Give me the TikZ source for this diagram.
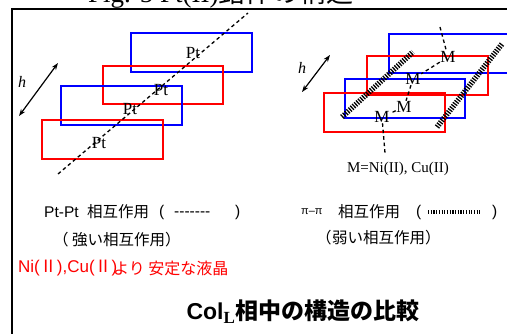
\documentclass[tikz,border=0pt]{standalone}
\usepackage{fontspec}
\usetikzlibrary{arrows.meta}
\setmainfont{Liberation Serif}
\setsansfont{Liberation Sans}
\newfontfamily\jp{Noto Sans CJK JP}
\newcommand\J[1]{{\jp #1}}
\tikzset{
  redbox/.style={draw=red, line width=1.3pt},
  bluebox/.style={draw=blue, line width=1.3pt},
  axisline/.style={line width=1.3pt, dash pattern=on 3.5pt off 3pt},
  hatchline/.style={line width=5.5pt, dash pattern=on 1.3pt off 1.3pt},
  harrow/.style={{Stealth[length=7pt,width=5pt]}-{Stealth[length=7pt,width=5pt]}, line width=1.2pt},
  lab/.style={font=\fontsize{17}{20}\selectfont, inner sep=0.5pt},
  hlab/.style={font=\fontsize{16}{19}\selectfont\itshape, inner sep=0pt},
  txt/.style={font=\fontsize{15.5}{18}\selectfont\sffamily, inner sep=0pt, anchor=west},
}
\begin{document}
\begin{tikzpicture}[x=1pt,y=-1pt]
\useasboundingbox (0,0) rectangle (507,334);
\clip (0,0) rectangle (507,334);
% caption cut off at top
\node[anchor=base west, inner sep=0pt, font=\fontsize{27}{30}\selectfont] (fig) at (88,3) {Fig. 5 Pt(II)\J{錯体の構造}};
% frame
\draw[line width=2pt] (11.5,340) -- (11.5,9.2) -- (515,9.2);
% left diagram
\draw[bluebox] (131,33) rectangle (252,72);
\draw[redbox] (103,66) rectangle (223,104);
\draw[bluebox] (61,86) rectangle (182,125);
\draw[redbox] (42,120) rectangle (163,159);
\coordinate (la) at (58,174);
\coordinate (lb) at (248,13);
\draw[axisline] (la) -- (lb);
\node[lab] (pt1) at (193,53) {Pt};
\node[lab] (pt2) at (161,90) {Pt};
\node[lab] (pt3) at (130,109) {Pt};
\node[lab] (pt4) at (99,143) {Pt};
\coordinate (ha1) at (19,116);
\coordinate (ha2) at (58,63);
\draw[harrow] (ha1) -- (ha2);
\node[hlab] (h1) at (22,82) {h};
% right diagram
\draw[bluebox] (389,34) rectangle (515,73);
\draw[redbox] (367,56) rectangle (488,95);
\draw[bluebox] (345,79) rectangle (465,118);
\draw[redbox] (324,93) rectangle (445,132);
\coordinate (hs1) at (342,117);
\coordinate (hs2) at (413,52);
\coordinate (hs3) at (437,127);
\coordinate (hs4) at (502,44);
\draw[hatchline] (hs1) -- (hs2);
\draw[hatchline] (hs3) -- (hs4);
\node[lab] (m1) at (448,57) {M};
\node[lab] (m2) at (413,79) {M};
\node[lab] (m3) at (404,107) {M};
\node[lab] (m4) at (382,117) {M};
\coordinate (mt) at (440,27);
\coordinate (mb) at (385,153);
\draw[axisline] (mt) -- (m1) -- (m2) -- (m3) -- (m4) -- (mb);
\coordinate (hb1) at (302,92);
\coordinate (hb2) at (330,55);
\draw[harrow] (hb1) -- (hb2);
\node[hlab] (h2) at (302,68) {h};
\node[font=\fontsize{15}{18}\selectfont, inner sep=0pt] (mdef) at (398,169) {M=Ni(II), Cu(II)};
% bottom left texts
\node[txt] (t1a) at (44,212) {Pt-Pt};
\node[txt] (t1b) at (87,212) {\J{相互作用}};
\node[txt] (t1c) at (159,212) {(};
\node[txt] (t1d) at (174,214) {-{}-{}-{}-{}-{}-{}-};
\node[txt] (t1e) at (235,212) {)};
\node[txt] (t2a) at (53,240) {\J{（}};
\node[txt] (t2b) at (72,240) {\J{強い相互作用）}};
\node[txt, text=red, font=\fontsize{17}{20}\selectfont\sffamily] (t3a) at (18,268) {Ni(\J{Ⅱ}),Cu(\J{Ⅱ})};
\node[txt, text=red, font=\fontsize{16}{19}\selectfont\sffamily] (t3b) at (113,268) {\J{より 安定な液晶}};
% bottom right texts
\node[txt, font=\fontsize{11}{13}\selectfont\sffamily] (t4) at (301,212) {π–π};
\node[txt] (t5) at (338,212) {\J{相互作用}};
\node[txt] (t5b) at (416,212) {(};
\coordinate (hh1) at (428,212);
\coordinate (hh2) at (480,212);
\draw[hatchline, line width=4pt, dash pattern=on 1.2pt off 1.5pt] (hh1) -- (hh2);
\node[txt] (t6) at (492,212) {)};
\node[txt] (t7a) at (316,238) {\J{（}};
\node[txt] (t7b) at (332,238) {\J{弱い相互作用）}};
% title
\node[inner sep=0pt, font=\fontsize{23}{26}\selectfont\bfseries] (title) at (303,312) {\sffamily Col$_{\textbf{\rmfamily\fontsize{17}{20}\selectfont L}}$\J{相中の構造の比較}};
\end{tikzpicture}
\end{document}
